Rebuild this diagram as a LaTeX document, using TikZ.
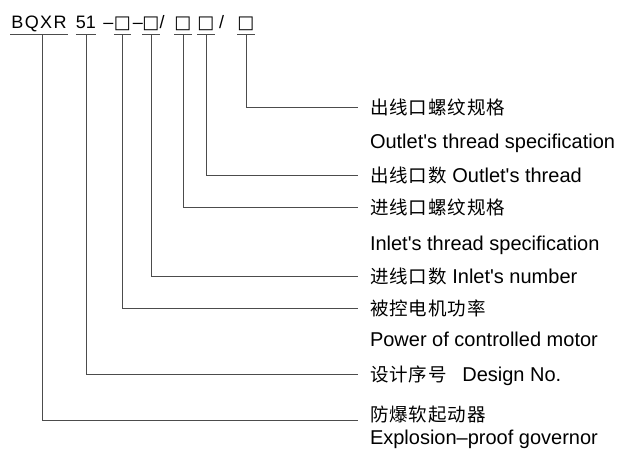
\documentclass[tikz,border=0pt]{standalone}
\usepackage{fontspec}
\setmainfont{Liberation Sans}
\newfontfamily\cjk{Noto Sans CJK SC}[LetterSpace=5]
\newfontfamily\symf{DejaVu Sans}
\newcommand\zh[1]{{\cjk\fontsize{18.5}{22}\selectfont #1}}

\begin{document}
\begin{tikzpicture}[x=1pt,y=-1pt,
    code/.style={anchor=base,inner xsep=0pt,inner ysep=6.5pt,outer sep=0pt,text depth=0pt,font=\fontsize{18}{20}\selectfont},
    box/.style={font=\symf\fontsize{18}{20}\selectfont},
    lab/.style={anchor=west,inner sep=0pt,outer sep=0pt,text height=14pt,text depth=0pt,font=\fontsize{20}{24}\selectfont},
    lead/.style={draw=black!70,line width=0.9pt}]
                \useasboundingbox (0,0) rectangle (622,448);

                \node[code,minimum width=58pt] (c0) at (39,28) {\addfontfeature{LetterSpace=8}BQXR};
                \node[code,minimum width=18pt] (c1) at (86,28) {51};
                \node[code,inner ysep=0pt] (d0) at (108.5,28) {–};
                \node[code,box,minimum width=13pt] (c2) at (122.5,28) {□};
                \node[code,inner ysep=0pt] (d1) at (138,28) {–};
                \node[code,box,minimum width=13pt] (c3) at (151,28) {□};
                \node[code,inner ysep=0pt] (s0) at (162,28) {/};
                \node[code,box,minimum width=14pt] (c4) at (183,28) {□};
                \node[code,box,minimum width=14pt] (c5) at (206,28) {□};
                \node[code,inner ysep=0pt] (s1) at (221.5,28) {/};
                \node[code,box,minimum width=14pt] (c6) at (246,28) {□};

                \foreach \n in {c0,c1,c2,c3,c4,c5,c6}
                    \draw[lead] (\n.south west) -- (\n.south east);

                \node[lab] (t0) at (370,107) {\zh{出线口螺纹规格}};
                \node[lab] (e0) at (370,141) {Outlet\textquotesingle s thread specification};
                \node[lab] (t1) at (370,175) {\zh{出线口数} Outlet\textquotesingle s thread};
                \node[lab] (t2) at (370,207) {\zh{进线口螺纹规格}};
                \node[lab] (e2) at (370,243) {Inlet\textquotesingle s thread specification};
                \node[lab] (t3) at (370,276) {\zh{进线口数} Inlet\textquotesingle s number};
                \node[lab] (t4) at (370,308) {\zh{被控电机功率}};
                \node[lab] (e4) at (370,339) {Power of controlled motor};
                \node[lab] (t5) at (370,374) {\zh{设计序号}\hspace{10pt} Design No.};
                \node[lab] (t6) at (370,414) {\zh{防爆软起动器}};
                \node[lab] (e6) at (370,437) {Explosion–proof governor};

                \draw[lead] (c6.south) |- ([xshift=-12pt]t0.west);
                \draw[lead] (c5.south) |- ([xshift=-12pt]t1.west);
                \draw[lead] (c4.south) |- ([xshift=-12pt]t2.west);
                \draw[lead] (c3.south) |- ([xshift=-12pt]t3.west);
                \draw[lead] (c2.south) |- ([xshift=-12pt]t4.west);
                \draw[lead] (c1.south) |- ([xshift=-12pt]t5.west);
                \draw[lead] ([xshift=3pt]c0.south) |- ([xshift=-12pt,yshift=-6pt]t6.west);
            \end{tikzpicture}
\end{document}
